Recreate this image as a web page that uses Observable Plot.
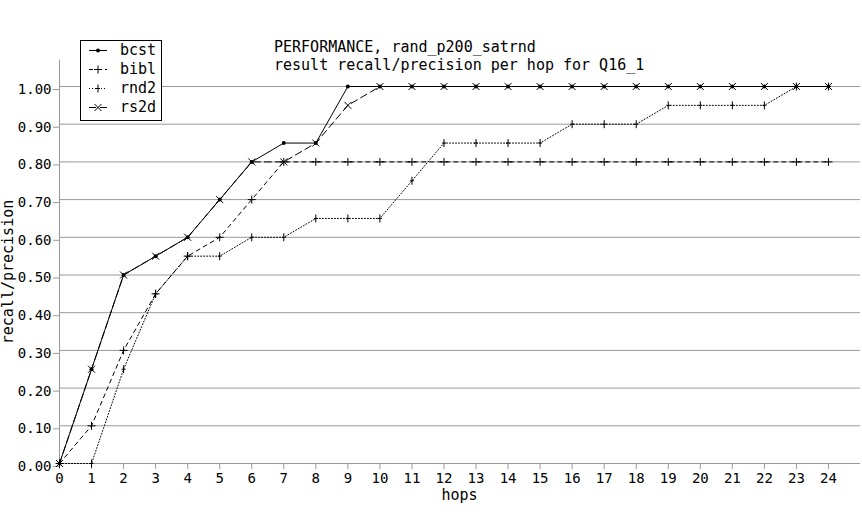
<!DOCTYPE html>
<html>
<head>
<meta charset="utf-8">
<script src="https://cdn.jsdelivr.net/npm/d3@7"></script>
<script src="https://cdn.jsdelivr.net/npm/@observablehq/plot@0.6"></script>
<style>
  html, body { margin: 0; padding: 0; background: white; }
</style>
</head>
<body>
<div id="chart"></div>
<script>
const hops = [0,1,2,3,4,5,6,7,8,9,10,11,12,13,14,15,16,17,18,19,20,21,22,23,24];
const bcst = [0,0.25,0.5,0.55,0.6,0.7,0.8,0.85,0.85,1,1,1,1,1,1,1,1,1,1,1,1,1,1,1,1];
const bibl = [0,0.1,0.3,0.45,0.55,0.6,0.7,0.8,0.8,0.8,0.8,0.8,0.8,0.8,0.8,0.8,0.8,0.8,0.8,0.8,0.8,0.8,0.8,0.8,0.8];
const rnd2 = [0,0,0.25,0.45,0.55,0.55,0.6,0.6,0.65,0.65,0.65,0.75,0.85,0.85,0.85,0.85,0.9,0.9,0.9,0.95,0.95,0.95,0.95,1,1];
const rs2d = [0,0.25,0.5,0.55,0.6,0.7,0.8,0.8,0.85,0.95,1,1,1,1,1,1,1,1,1,1,1,1,1,1,1];
const yTicks = [0,0.1,0.2,0.3,0.4,0.5,0.6,0.7,0.8,0.9,1.0];
const seriesNames = ["bcst","bibl","rnd2","rs2d"];
const titleLines = ["PERFORMANCE, rand_p200_satrnd", "result recall/precision per hop for Q16_1"];
const xLabel = "hops";
const yLabel = "recall/precision";

const mono = "DejaVu Sans Mono";
const toRows = vals => hops.map((h, i) => ({x: h, y: vals[i]}));

const symPlus = {draw(c){ c.moveTo(-4,0); c.lineTo(4,0); c.moveTo(0,-4); c.lineTo(0,4); }};
const symTick = {draw(c){ c.moveTo(-2,0); c.lineTo(2,0); c.moveTo(0,-4); c.lineTo(0,4); }};
const symTimes = {draw(c){ c.moveTo(-3.5,-3.5); c.lineTo(3.5,3.5); c.moveTo(-3.5,3.5); c.lineTo(3.5,-3.5); }};

const styles = {
  bcst: {dash: null, symbol: "circle", r: 2, fill: "black", stroke: "none"},
  bibl: {dash: "4,4", symbol: symPlus, r: 4, fill: "none", stroke: "black"},
  rnd2: {dash: "1,2", symbol: symTick, r: 4, fill: "none", stroke: "black"},
  rs2d: {dash: "7,4", symbol: symTimes, r: 4, fill: "none", stroke: "black"}
};
const dataBy = {bcst, bibl, rnd2, rs2d};

const marks = [
  Plot.ruleY(yTicks, {stroke: "#999", strokeWidth: 1}),
  Plot.ruleX([0], {y1: 0, y2: 1.07, stroke: "#999"}),
  Plot.axisY({ticks: yTicks, tickFormat: d => d.toFixed(2), tickSize: 6, tickPadding: 2, stroke: "#999", fill: "black", label: null, fontSize: 14, dy: 3}),
  Plot.axisX({ticks: hops, tickFormat: d => String(d), tickSize: 6, tickPadding: 4, stroke: "#999", fill: "black", label: null, fontSize: 14})
];
for (const name of seriesNames) {
  const s = styles[name];
  marks.push(Plot.line(toRows(dataBy[name]), {x: "x", y: "y", stroke: "black", strokeWidth: 1, strokeDasharray: s.dash ?? undefined}));
}
for (const name of seriesNames) {
  const s = styles[name];
  marks.push(Plot.dot(toRows(dataBy[name]), {x: "x", y: "y", symbol: s.symbol, r: s.r, fill: s.fill, stroke: s.stroke, strokeWidth: 1}));
}

const chart = Plot.plot({
  width: 862,
  height: 520,
  marginLeft: 59,
  marginRight: 2,
  marginTop: 86,
  marginBottom: 57,
  x: {domain: [0, 25]},
  y: {domain: [0, 1]},
  style: {fontFamily: mono, fontSize: "14px", background: "white", color: "black"},
  marks
});
document.getElementById("chart").appendChild(chart);

const svg = d3.select(chart);
// legend
const lg = svg.append("g");
lg.append("rect").attr("x", 80.5).attr("y", 40.5).attr("width", 81).attr("height", 80)
  .attr("fill", "white").attr("stroke", "black");
seriesNames.forEach((name, i) => {
  const s = styles[name];
  const cy = 50 + i * 19;
  lg.append("line").attr("x1", 89).attr("x2", 107).attr("y1", cy + 0.5).attr("y2", cy + 0.5)
    .attr("stroke", "black").attr("stroke-dasharray", s.dash ?? null);
  const sym = s.symbol === "circle" ? d3.symbol(d3.symbolCircle, Math.PI * 4)() : d3.symbol(s.symbol)();
  lg.append("path").attr("d", sym).attr("transform", `translate(98,${cy + 0.5})`)
    .attr("fill", s.fill).attr("stroke", s.stroke);
  lg.append("text").attr("font-family", mono).attr("font-size", 15).attr("text-anchor", "start")
    .attr("x", 120).attr("y", cy + 5).text(name);
});
// title
const t = svg.append("g").attr("font-family", mono).attr("font-size", 15).attr("fill", "black").attr("text-anchor", "start");
t.append("text").attr("x", 274).attr("y", 52).text(titleLines[0]);
t.append("text").attr("x", 274).attr("y", 70).text(titleLines[1]);
// axis labels
svg.append("text").attr("font-family", mono).attr("font-size", 15).attr("text-anchor", "middle")
  .attr("x", 459.5).attr("y", 500).text(xLabel);
svg.append("text").attr("font-family", mono).attr("font-size", 15).attr("text-anchor", "middle")
  .attr("transform", "translate(13,272) rotate(-90)").text(yLabel);
</script>
</body>
</html>
